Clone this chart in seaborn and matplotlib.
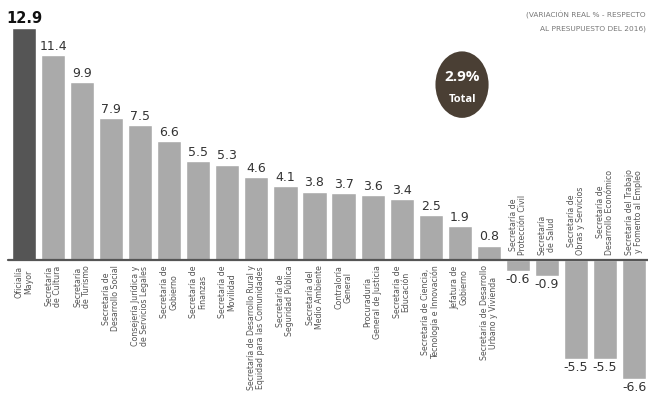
import matplotlib
matplotlib.use("Agg")
import matplotlib.pyplot as plt
import seaborn as sns
import pandas as pd
from matplotlib.patches import Ellipse

sns.set_theme(style="white")
plt.rcParams['font.family'] = ['Liberation Sans Narrow', 'DejaVu Sans Condensed', 'DejaVu Sans']

categories = [
    "Oficialía\nMayor",
    "Secretaría\nde Cultura",
    "Secretaría\nde Turismo",
    "Secretaría de\nDesarrollo Social",
    "Consejería Jurídica y\nde Servicios Legales",
    "Secretaría de\nGobierno",
    "Secretaría de\nFinanzas",
    "Secretaría de\nMovilidad",
    "Secretaría de Desarrollo Rural y\nEquidad para las Comunidades",
    "Secretaría de\nSeguridad Pública",
    "Secretaría del\nMedio Ambiente",
    "Contraloría\nGeneral",
    "Procuraduría\nGeneral de Justicia",
    "Secretaría de\nEducación",
    "Secretaría de Ciencia,\nTecnología e Innovación",
    "Jefatura de\nGobierno",
    "Secretaría de Desarrollo\nUrbano y Vivienda",
    "Secretaría de\nProtección Civil",
    "Secretaría\nde Salud",
    "Secretaría de\nObras y Servicios",
    "Secretaría de\nDesarrollo Económico",
    "Secretaría del Trabajo\ny Fomento al Empleo",
]
values = [12.9, 11.4, 9.9, 7.9, 7.5, 6.6, 5.5, 5.3, 4.6, 4.1, 3.8, 3.7, 3.6, 3.4,
          2.5, 1.9, 0.8, -0.6, -0.9, -5.5, -5.5, -6.6]
value_labels = ["12.9", "11.4", "9.9", "7.9", "7.5", "6.6", "5.5", "5.3", "4.6", "4.1",
                "3.8", "3.7", "3.6", "3.4", "2.5", "1.9", "0.8", "-0.6", "-0.9",
                "-5.5", "-5.5", "-6.6"]
total_label = "2.9%"
title_lines = ["(VARIACIÓN REAL % - RESPECTO", "AL PRESUPUESTO DEL 2016)"]

df = pd.DataFrame({"cat": categories, "val": values})
palette = ["#555555"] + ["#aaaaaa"] * (len(categories) - 1)

fig = plt.figure(figsize=(6.48, 4.03), dpi=100)
ax = fig.add_axes([0, 0, 1, 1])
sns.barplot(data=df, x="cat", y="val", hue="cat", palette=palette, legend=False,
            width=0.83, ax=ax, saturation=1)
ax.set_xlim(-0.826, 21.48)
ax.set_ylim(-7.94, 14.44)
ax.axis("off")
ax.axhline(0, xmin=8/648, xmax=1, color="#555555", lw=1.6, zorder=5)

for i, (cat, v, lab) in enumerate(zip(categories, values, value_labels)):
    if v >= 0:
        ax.text(i, v + 0.12, lab, ha="center", va="bottom",
                fontsize=10.5 if i == 0 else 9,
                fontweight="bold" if i == 0 else "normal",
                color="#111111" if i == 0 else "#333333")
        ax.text(i, -0.3, cat, rotation=90, ha="center", va="top",
                fontsize=5.7, color="#555555", linespacing=1.0)
    else:
        ax.text(i, v - 0.12, lab, ha="center", va="top", fontsize=9, color="#333333")
        ax.text(i, 0.3, cat, rotation=90, ha="center", va="bottom",
                fontsize=5.7, color="#555555", linespacing=1.0)

# total badge
e = Ellipse((0.713, 0.79), width=0.082, height=0.165, transform=fig.transFigure,
            facecolor="#4a3f34", edgecolor="none", zorder=6)
fig.patches.append(e)
fig.text(0.713, 0.808, total_label, ha="center", va="center", color="white",
         fontsize=11, fontweight="bold", family=["Open Sans", "DejaVu Sans"], zorder=7)
fig.text(0.713, 0.752, "Total", ha="center", va="center", color="white",
         fontsize=8, fontweight="bold", family=["Open Sans", "DejaVu Sans"], zorder=7)

fig.text(0.997, 0.962, title_lines[0], ha="right", va="center", fontsize=5.3, color="#777777")
fig.text(0.997, 0.928, title_lines[1], ha="right", va="center", fontsize=5.3, color="#777777")

fig.savefig("out.png", dpi=100, facecolor="white")
